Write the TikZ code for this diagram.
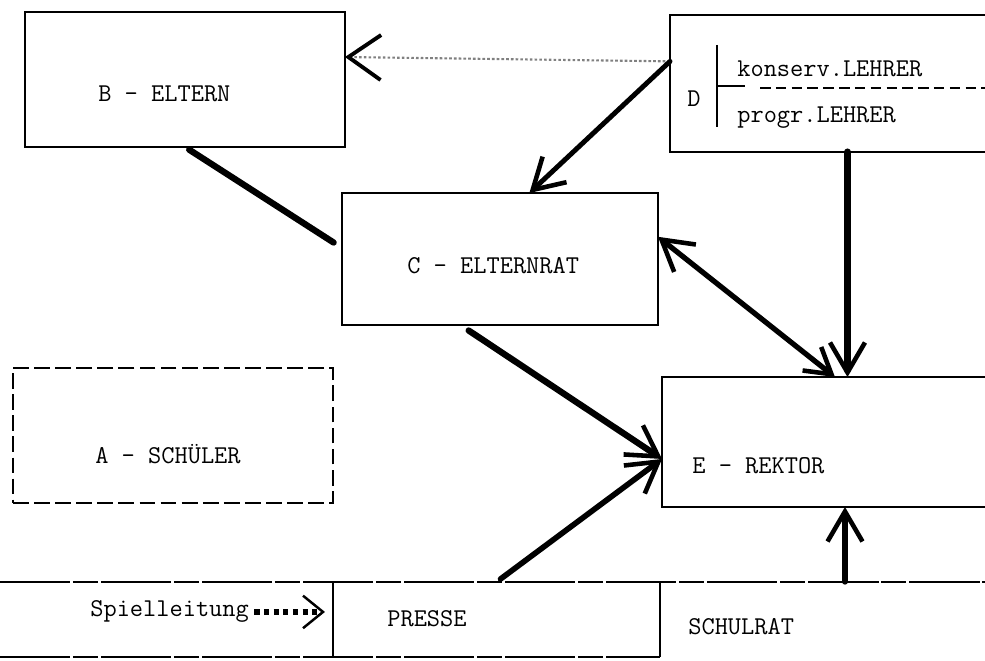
\documentclass[tikz,border=0pt]{standalone}
\usetikzlibrary{arrows.meta}

\tikzset{
  box/.style={draw, line width=0.8pt, inner sep=0pt, outer sep=0pt},
  frame/.style={inner sep=0pt, outer sep=0pt},
  txt/.style={font=\ttfamily\fontsize{14.6}{17}\selectfont, inner sep=0pt, anchor=base west},
  heavy/.style={line width=3.6pt, line cap=round},
  tip/.style={-{Straight Barb[length=6mm,width=7mm,line width=2.6pt]}},
  tiptip/.style={{Straight Barb[length=6mm,width=7mm,line width=2.6pt]}-{Straight Barb[length=5mm,width=6mm,line width=2.6pt]}},
  band/.style={line width=0.8pt, dash pattern=on 40pt off 1.5pt on 14pt off 2pt},
}

\begin{document}
\begin{tikzpicture}[x=0.02cm, y=-0.02cm]
  \def\Yband{619.5}
  \useasboundingbox (0,0) rectangle (985,661);

  % boxes
  \node[box, minimum width=6.4cm, minimum height=2.7cm] (b) at (185,79.5) {};
  \node[box, minimum width=6.32cm, minimum height=2.64cm] (c) at (500,259) {};
  \node[box, dash pattern=on 9pt off 3pt, minimum width=6.4cm, minimum height=2.7cm] (a) at (173,435.5) {};
  \node[frame, minimum width=6.3cm, minimum height=2.74cm] (d) at (827.5,83.5) {};
  \node[frame, minimum width=6.46cm, minimum height=2.6cm] (e) at (823.5,442) {};
  \draw[line width=0.8pt] (d.north east) -- (d.north west) -- (d.south west) -- (d.south east);
  \draw[line width=0.8pt] (e.north east) -- (e.north west) -- (e.south west) -- (e.south east);

  % bottom band
  \node[frame, minimum width=6.66cm, minimum height=1.5cm] (leitung) at (166.5,\Yband) {};
  \node[frame, minimum width=6.54cm, minimum height=1.5cm] (presse) at (496.5,\Yband) {};
  \node[frame, minimum width=6.5cm, minimum height=1.5cm] (schulrat) at (822.5,\Yband) {};
  \draw[band] (leitung.north west) -- (schulrat.north east);
  \draw[band] (leitung.south west) -- (presse.south east);
  \draw[line width=0.8pt] (presse.north west) -- (presse.south west);
  \draw[line width=0.8pt] (schulrat.north west) -- (schulrat.south west);

  % labels
  \node[txt] (bl) at (98,102) {B - ELTERN};
  \node[txt] (cl) at (407,274) {C - ELTERNRAT};
  \node[txt] (al) at (95,464) {A - SCHÜLER};
  \node[txt] (el) at (692,474) {E - REKTOR};
  \node[txt] (dl) at (687,107) {D};
  \node[txt] (kons) at (737,77) {konserv.LEHRER};
  \node[txt] (prog) at (737,123) {progr.LEHRER};
  \node[txt] (spiel) at (90,617) {Spielleitung};
  \node[txt] (pl) at (387,627) {PRESSE};
  \node[txt] (sl) at (688,635) {SCHULRAT};

  % D split
  \draw[line width=0.8pt] (717,45) -- (717,127);
  \draw[line width=0.8pt] (717,86) -- (745,86);
  \draw[line width=0.7pt, dash pattern=on 6pt off 3pt] (760,88) -- (985,88);

  % arrows
  \draw[line width=1.2pt, gray, dash pattern=on 1.5pt off 1.2pt,
        -{Straight Barb[length=6.5mm,width=9mm,line width=2.2pt,color=black]}] (d.172) -- (b.8);
  \draw[heavy, line width=2.8pt, tip] (d.172) -- (c.66);
  \draw[heavy, shorten <=1mm, shorten >=2mm] (b.south) -- (c.176);
  \draw[heavy, line width=4pt, tip] ([xshift=4mm]d.south) -- ([xshift=4mm]d.south |- e.north);
  \draw[heavy, line width=3pt, tiptip] (c.8) -- (e.80);
  \draw[heavy, shorten <=2mm, tip] (c.239) -- (e.186);
  \draw[heavy, line width=3.2pt, shorten <=1mm, tip] (presse.north) -- (e.186);
  \draw[heavy, line width=3pt, tip] ([xshift=4.5mm]schulrat.north) -- ([xshift=4.5mm]schulrat.north |- e.south);
  \draw[line width=3pt, dash pattern=on 3pt off 2.5pt, shorten <=1mm, shorten >=1.6mm,
        -{Straight Barb[length=4mm,width=6.5mm,line width=1.4pt]}] (spiel.east) -- (spiel.east -| leitung.east);
\end{tikzpicture}
\end{document}
